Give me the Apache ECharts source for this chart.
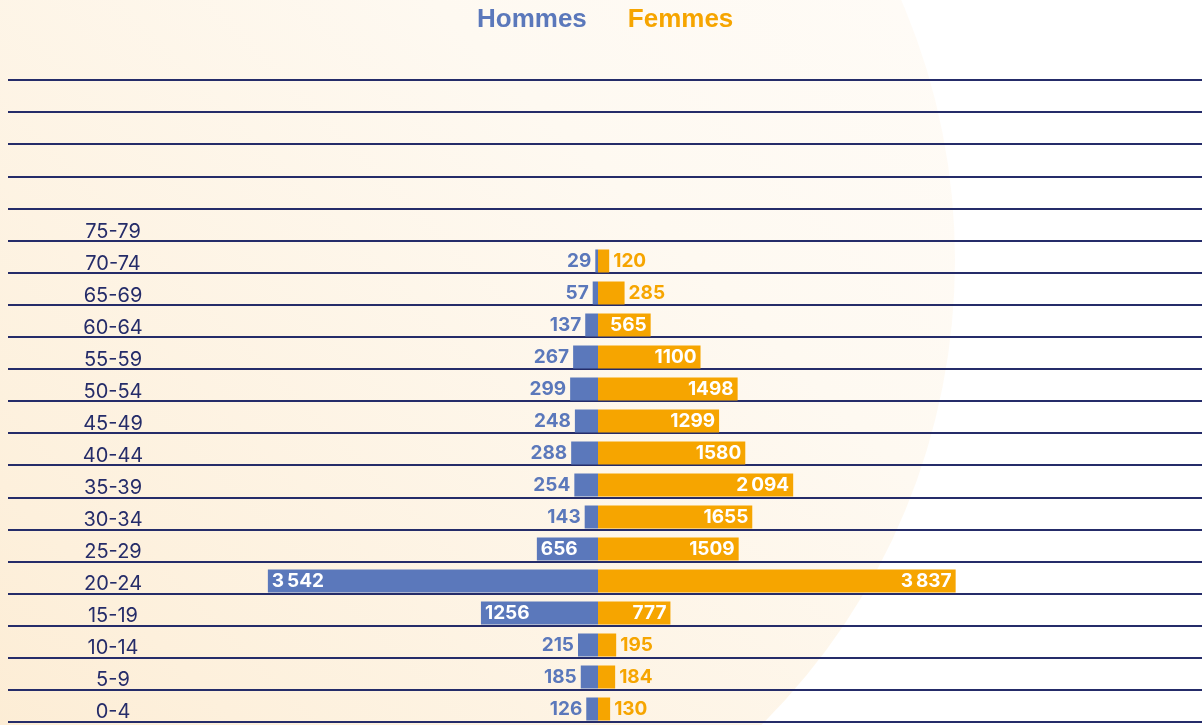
<!DOCTYPE html>
<html>
<head>
<meta charset="utf-8">
<title>Pyramide des âges</title>
<script src="https://cdn.jsdelivr.net/npm/echarts@6/dist/echarts.min.js"></script>
<style>
	html, body { margin: 0; padding: 0; background: #ffffff; }
	#chart { width: 1202px; height: 725px; }
</style>
</head>
<body>
<div id="chart"></div>
<script>
	// tranches d'âge, de bas en haut (4 lignes vides au-dessus de 75-79)
	var ages = ['0-4', '5-9', '10-14', '15-19', '20-24', '25-29', '30-34', '35-39',
		'40-44', '45-49', '50-54', '55-59', '60-64', '65-69', '70-74', '75-79', ' ', '  ', '   ', '    '];
	var hommes = [126, 185, 215, 1256, 3542, 656, 143, 254, 288, 248, 299, 267, 137, 57, 29, null];
	var femmes = [130, 184, 195, 777, 3837, 1509, 1655, 2094, 1580, 1299, 1498, 1100, 565, 285, 120, null];

	var BLUE = '#5b78bb';
	var ORANGE = '#f6a500';
	var NAVY = '#252c69';

	function fmt(v) {
		v = Math.abs(v);
		if (v >= 2000) {
			var s = String(v);
			return s.slice(0, s.length - 3) + '\u2009' + s.slice(-3);
		}
		return String(v);
	}

	var labelBase = { show: true, fontFamily: 'Inter', fontWeight: 'bold', fontSize: 19, formatter: function(p) { return fmt(p.value); } };

	var dataH = hommes.map(function(v) {
		if (v == null) return null;
		var inside = v >= 600;
		return {
			value: -v,
			label: Object.assign({}, labelBase, {
				position: inside ? 'insideLeft' : 'left',
				distance: 4,
				color: inside ? '#ffffff' : BLUE
			})
		};
	});
	var dataF = femmes.map(function(v) {
		if (v == null) return null;
		var inside = v >= 500;
		return {
			value: v,
			label: Object.assign({}, labelBase, {
				position: inside ? 'insideRight' : 'right',
				distance: 4,
				color: inside ? '#ffffff' : ORANGE
			})
		};
	});

	var myChart = echarts.init(document.getElementById('chart'));
	myChart.setOption({
		animation: false,
		backgroundColor: '#ffffff',
		graphic: [{
			type: 'circle',
			z: -10,
			silent: true,
			shape: { cx: 300, cy: 260, r: 655 },
			style: {
				fill: new echarts.graphic.LinearGradient(0, 1, 1, 0, [
					{ offset: 0, color: '#fbe6c6' },
					{ offset: 0.3, color: '#fdf0dc' },
					{ offset: 0.65, color: '#fef9f1' },
					{ offset: 1, color: '#fffdfb' }
				])
			}
		}],
		legend: {
			top: 1,
			left: 467,
			icon: 'none',
			itemWidth: 0,
			itemHeight: 28,
			itemGap: 36,
			selectedMode: false,
			textStyle: { fontFamily: 'Liberation Sans', fontWeight: 'bold', fontSize: 26 },
			data: [
				{ name: 'Hommes', textStyle: { color: BLUE } },
				{ name: 'Femmes', textStyle: { color: ORANGE } }
			]
		},
		grid: [
			{ left: 8, right: 0, top: 85, height: 642 },
			{ left: 8, right: 0, top: 80, height: 642 }
		],
		xAxis: [
			{ gridIndex: 0, type: 'value', min: -6330, max: 6480, show: false },
			{ gridIndex: 1, type: 'value', min: 0, max: 1, show: false }
		],
		yAxis: [
			{
				gridIndex: 0,
				type: 'category',
				data: ages,
				axisLine: { show: false },
				axisTick: { show: false },
				splitLine: { show: false },
				axisLabel: {
					align: 'center',
					margin: -105,
					interval: 0,
					formatter: '{a|{value}}',
					rich: {
						a: {
							color: NAVY,
							fontFamily: 'Inter',
							fontSize: 20,
							padding: [6, 0, 0, 0]
						}
					}
				}
			},
			{
				// lignes horizontales
				gridIndex: 1,
				type: 'value',
				min: 0,
				max: 20,
				interval: 1,
				axisLabel: { show: false },
				axisLine: { show: false },
				axisTick: { show: false },
				splitLine: { show: true, lineStyle: { color: NAVY, width: 2 } }
			}
		],
		series: [
			{
				name: 'Hommes',
				type: 'bar',
				stack: 'pop',
				xAxisIndex: 0,
				yAxisIndex: 0,
				barWidth: 23,
				itemStyle: { color: BLUE },
				data: dataH
			},
			{
				name: 'Femmes',
				type: 'bar',
				stack: 'pop',
				xAxisIndex: 0,
				yAxisIndex: 0,
				barWidth: 23,
				itemStyle: { color: ORANGE },
				data: dataF
			}
		]
	});
</script>
</body>
</html>
